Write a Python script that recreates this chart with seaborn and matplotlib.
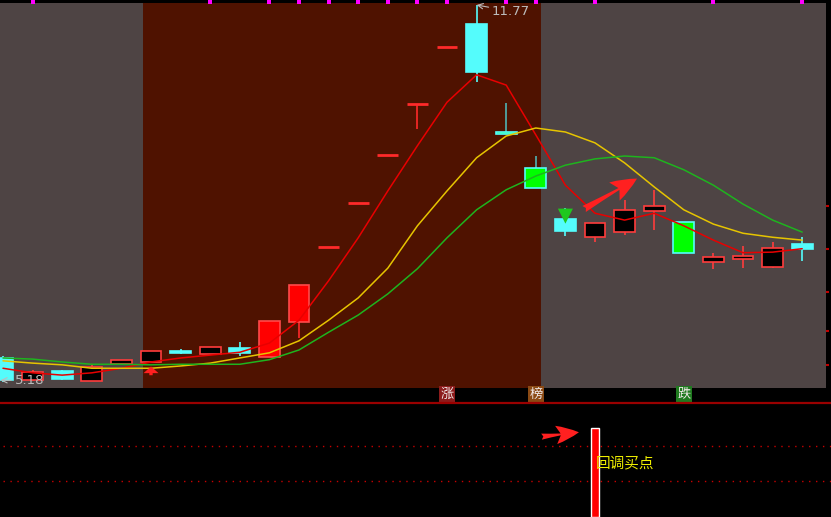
import numpy as np
import pandas as pd
import matplotlib.pyplot as plt
import seaborn as sns
from matplotlib.patches import Rectangle

# daily bars
days = np.arange(28)
opens = [5.60, 5.21, 5.37, 5.20, 5.49, 5.53, 5.72, 5.67, 5.77, 5.62, 6.23, 7.54, 8.31, 9.15,
         10.04, 11.04, 11.44, 9.55, 8.92, 8.03, 7.71, 7.80, 8.17, 7.98, 7.28, 7.33, 7.19, 7.59]
highs = [5.63, 5.39, 5.39, 5.48, 5.56, 5.72, 5.76, 5.79, 5.88, 6.25, 6.88, 7.54, 8.31, 9.15,
         10.04, 11.04, 11.77, 10.06, 9.13, 8.22, 7.96, 8.36, 8.54, 7.98, 7.43, 7.56, 7.63, 7.71]
lows = [5.18, 5.20, 5.21, 5.20, 5.49, 5.53, 5.67, 5.67, 5.63, 5.62, 5.95, 7.54, 8.31, 9.15,
        9.60, 11.04, 10.42, 9.52, 8.57, 7.73, 7.63, 7.75, 7.84, 7.43, 7.16, 7.17, 7.17, 7.30]
closes = [5.21, 5.35, 5.23, 5.44, 5.56, 5.72, 5.69, 5.79, 5.69, 6.25, 6.88, 7.54, 8.31, 9.15,
          10.04, 11.04, 10.60, 9.52, 8.57, 7.82, 7.96, 8.19, 8.26, 7.43, 7.36, 7.38, 7.52, 7.50]

# moving average lines
ma_short = [5.42, 5.34, 5.30, 5.34, 5.42, 5.53, 5.60, 5.65, 5.70, 5.86, 6.26, 6.95, 7.70, 8.52,
            9.31, 10.07, 10.55, 10.37, 9.50, 8.62, 8.13, 8.01, 8.13, 7.91, 7.66, 7.44, 7.45, 7.51]
ma_mid = [5.55, 5.51, 5.48, 5.42, 5.42, 5.42, 5.46, 5.51, 5.60, 5.69, 5.90, 6.26, 6.65, 7.17,
          7.91, 8.52, 9.10, 9.48, 9.62, 9.55, 9.36, 9.01, 8.59, 8.19, 7.94, 7.78, 7.71, 7.66]
ma_long = [5.60, 5.58, 5.53, 5.49, 5.49, 5.48, 5.49, 5.49, 5.49, 5.57, 5.74, 6.05, 6.35, 6.72,
           7.16, 7.70, 8.19, 8.54, 8.78, 8.97, 9.08, 9.13, 9.10, 8.89, 8.62, 8.29, 8.01, 7.80]

event_days = [1, 7, 9, 10, 11, 12, 13, 14, 15, 17, 18, 20, 24, 27]
zone_start, zone_end = 4.73, 18.18
tag_days = [15, 18, 23]
tag_text = ["涨", "榜", "跌"]
tag_colors = ["#8c1c1c", "#8b4a14", "#1f7a1f"]
right_ticks = [8.26, 7.50, 6.75, 6.07, 5.48]
buy_day = 19
sell_day = 5
signal_day = 20
signal_value = 78
signal_text = "回调买点"

sns.set_theme(style="dark", rc={"figure.facecolor": "black", "axes.facecolor": "black"})
plt.rcParams["font.family"] = ["Noto Sans CJK SC", "DejaVu Sans"]

W, H = 831, 517
fig = plt.figure(figsize=(W / 100, H / 100), dpi=100)
ax = fig.add_axes([0, (H - 388) / H, 826 / W, (388 - 3) / H])
ax2 = fig.add_axes([0, 0, 1, (H - 403) / H])

step = 29.6
ax.set_xlim(-3 / step, 823 / step)
ax.set_ylim(5.075, 11.805)
ax.set_facecolor("#4e4444")
ax.axvspan(zone_start, zone_end, color="#4f1200", zorder=0, lw=0)

# candles
for i in days:
    o, h, l, c = opens[i], highs[i], lows[i], closes[i]
    pct = c / closes[i - 1] - 1 if i > 0 else 0
    if pct > 0.095:
        face, edge, wick = "#ff0000", "#ff4a4a", "#ff2a2a"
    elif pct < -0.095:
        face, edge, wick = "#00ff00", "#54fcfc", "#4fb4b4"
    elif c >= o:
        face, edge, wick = "black", "#ff3c3c", "#ff3c3c"
    else:
        face, edge, wick = "#54fcfc", "#54fcfc", "#54fcfc"
    ax.vlines(i, l, h, color=wick, lw=1.2, zorder=2)
    if abs(c - o) < 0.005:
        ax.hlines(o, i - 0.35, i + 0.35, color=wick, lw=2, zorder=3)
    else:
        ax.add_patch(Rectangle((i - 0.35, min(o, c)), 0.7, abs(c - o),
                               facecolor=face, edgecolor=edge, lw=1.2, zorder=3))

ma = pd.DataFrame({
    "day": np.concatenate([days] * 3),
    "price": ma_short + ma_mid + ma_long,
    "line": ["short"] * 28 + ["mid"] * 28 + ["long"] * 28,
})
sns.lineplot(data=ma, x="day", y="price", hue="line", ax=ax, legend=False, lw=1.1,
             palette={"short": "#e80000", "mid": "#e6c400", "long": "#1eb41e"}, zorder=5)

# signal arrows on the price panel
ax.annotate("", xy=(buy_day, 7.90), xytext=(buy_day, 8.26),
            arrowprops=dict(arrowstyle="simple,head_width=0.9,head_length=0.9,tail_width=0.3",
                            color="#1ec81e", lw=0), zorder=6)
ax.annotate("", xy=(sell_day, 5.50), xytext=(sell_day, 5.25),
            arrowprops=dict(arrowstyle="simple,head_width=0.9,head_length=0.4,tail_width=0.2",
                            color="#ff2020", lw=0), zorder=6)
ax.annotate("", xy=(signal_day + 1.5, 8.76), xytext=(signal_day - 0.45, 8.18),
            arrowprops=dict(arrowstyle="fancy,head_width=0.6,head_length=0.75,tail_width=0.2",
                            color="#ff2020", lw=0, mutation_scale=25), zorder=6)

# extreme labels
hi = int(np.argmax(highs))
lo = int(np.argmin(lows))
ax.annotate(f"{highs[hi]:.2f}", xy=(hi, highs[hi]), xytext=(11, -4.5), textcoords="offset points",
            color="#bcbcbc", fontsize=9.5, va="center", ha="left", family="DejaVu Sans",
            arrowprops=dict(arrowstyle="->", color="#bcbcbc", lw=0.8, shrinkA=0, shrinkB=0),
            annotation_clip=False, zorder=7)
ax.annotate(f"{lows[lo]:.2f}", xy=(lo - 0.08, lows[lo] + 0.03), xytext=(10, 0),
            textcoords="offset points", color="#bcbcbc", fontsize=9.5, va="center", ha="left",
            family="DejaVu Sans",
            arrowprops=dict(arrowstyle="->", color="#bcbcbc", lw=0.8, shrinkA=0, shrinkB=0),
            annotation_clip=False, zorder=7)

# event markers on the top edge
ax.scatter(event_days, [11.83] * len(event_days), marker="s", s=9, color="#ff00ff",
           clip_on=False, zorder=7, lw=0)

# tags under the price panel
for d, t, col in zip(tag_days, tag_text, tag_colors):
    ax.text(d, 4.97, t, color="#f0e8e8", fontsize=9.5, ha="center", va="center",
            bbox=dict(boxstyle="square,pad=0.12", fc=col, ec="none"), clip_on=False)

ax.yaxis.tick_right()
ax.set_yticks(right_ticks)
ax.set_yticklabels([])
ax.tick_params(axis="y", colors="#c00000", length=2, width=1.5, direction="out")
ax.set_xticks([])
ax.set_xlabel("")
ax.set_ylabel("")
ax.grid(False)
for s in ax.spines.values():
    s.set_visible(False)

# lower indicator panel
ax2.set_facecolor("black")
ax2.set_xlim(-3 / step, 828 / step)
ax2.set_ylim(0, 100)
for lvl in (62.3, 31.6):
    ax2.axhline(lvl, xmin=3 / 831, color="#c80000", lw=1, ls=(0, (1, 4)))
ax2.bar(signal_day, signal_value, width=0.27, color="#ff0000", zorder=3)
ax2.text(signal_day + 0.03, 47.4, signal_text, color="#eeee00", fontsize=10.5,
         ha="left", va="center", zorder=4)
ax2.annotate("", xy=(signal_day - 0.45, 74.6), xytext=(signal_day - 1.9, 70.2),
             arrowprops=dict(arrowstyle="fancy,head_width=0.6,head_length=0.75,tail_width=0.2",
                             color="#ff2020", lw=0, mutation_scale=22))
ax2.set_xticks([])
ax2.set_yticks([])
ax2.grid(False)
for name, s in ax2.spines.items():
    s.set_visible(name == "top")
ax2.spines["top"].set_color("#9a0000")
ax2.spines["top"].set_linewidth(1.6)

fig.savefig("out.png", dpi=100, facecolor="black")
